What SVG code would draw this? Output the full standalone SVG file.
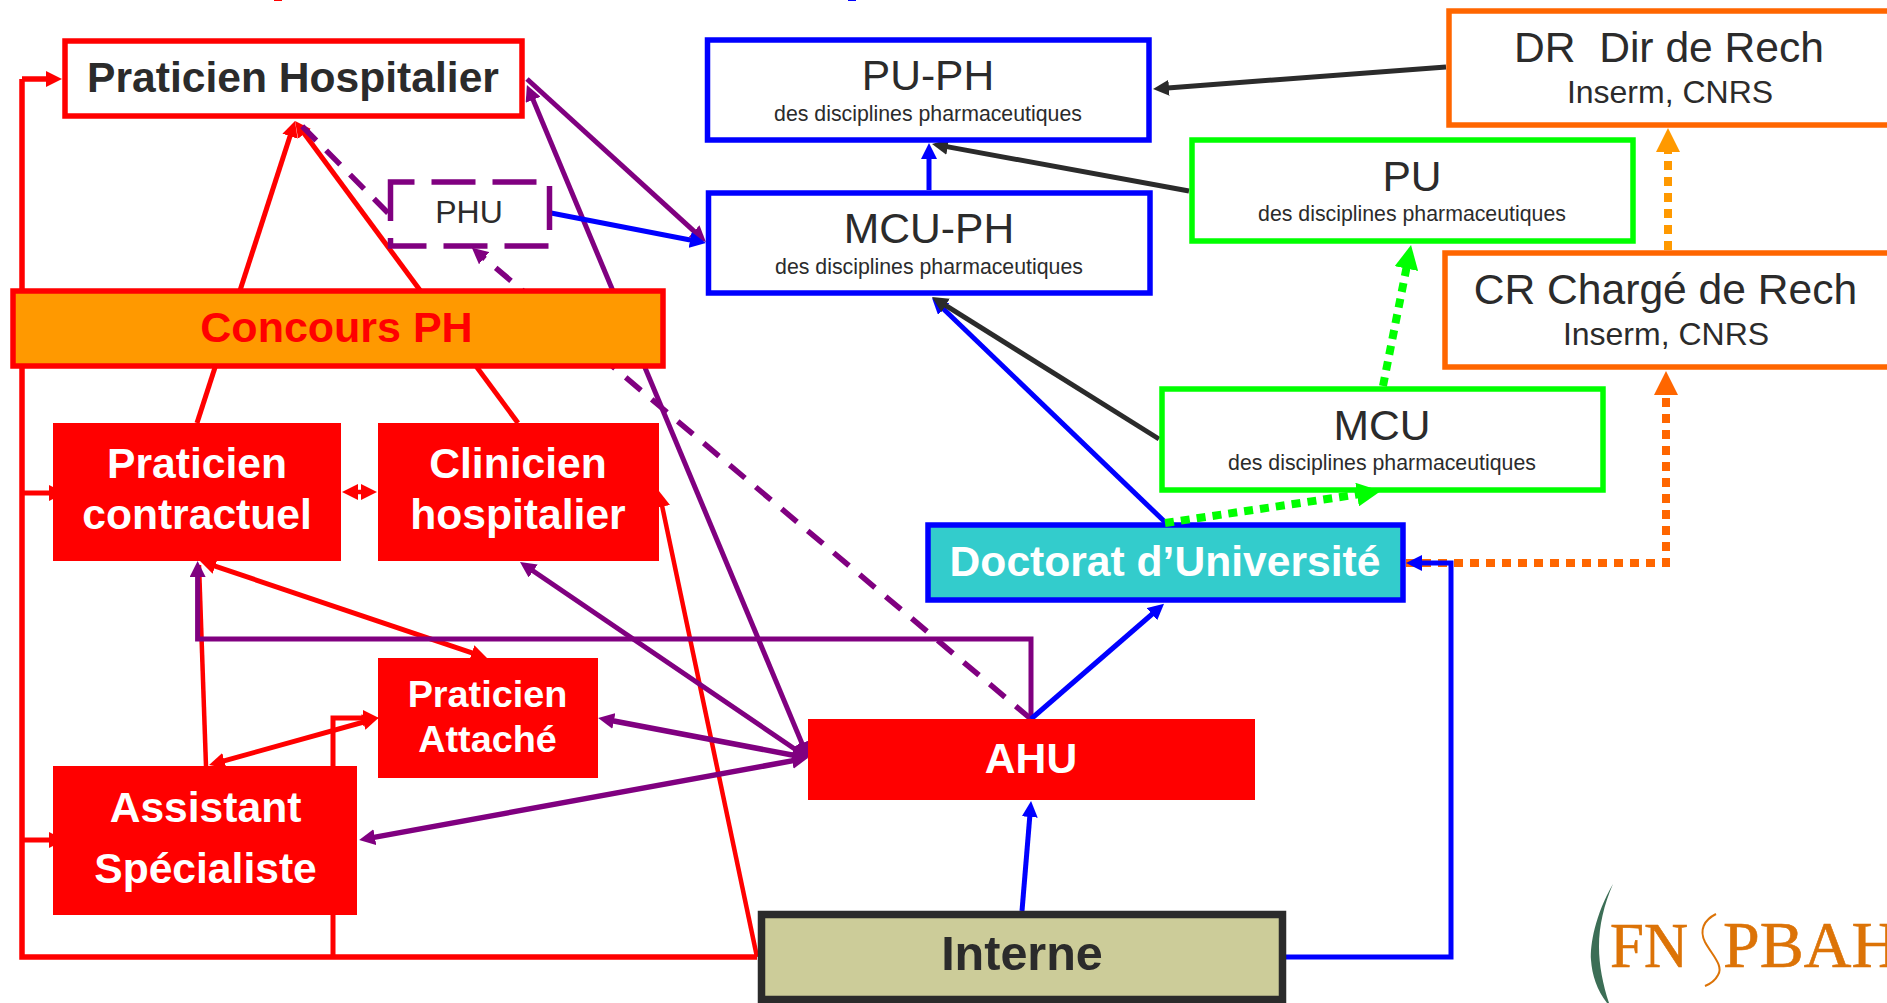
<svg xmlns="http://www.w3.org/2000/svg" width="1887" height="1003" viewBox="0 0 1887 1003">
<style>
text{font-family:"Liberation Sans",Arial,sans-serif;text-anchor:middle;fill:#2b2b2b}
.b{font-weight:bold}
.t{font-size:42.6px}
.s{font-size:21.3px}
.m{font-size:32px}
.w{fill:#fff}
.box{fill:#fff;stroke-width:5.5}
.bl{stroke:#00f}.gr{stroke:#0f0}.or{stroke:#f60}.rd{stroke:#f00}
.f{fill:#f00}
.c{fill:none;stroke-linejoin:miter}
.r{stroke:#f00}.p{stroke:#800080}.u{stroke:#00f}.k{stroke:#2b2b2b}
.w4{stroke-width:4.5}.w5{stroke-width:5}.w6{stroke-width:5.5}
.ds{stroke-width:5.5;stroke-dasharray:20 14}
.dot{stroke-width:8;stroke-dasharray:9 7}
</style>
<defs>
<marker id="hr" markerUnits="userSpaceOnUse" markerWidth="16" markerHeight="16" refX="8" refY="8" orient="auto-start-reverse"><path d="M0 0L16 8L0 16z" fill="#f00"/></marker>
<marker id="hp" markerUnits="userSpaceOnUse" markerWidth="16" markerHeight="16" refX="8" refY="8" orient="auto-start-reverse"><path d="M0 0L16 8L0 16z" fill="#800080"/></marker>
<marker id="hu" markerUnits="userSpaceOnUse" markerWidth="16" markerHeight="16" refX="8" refY="8" orient="auto-start-reverse"><path d="M0 0L16 8L0 16z" fill="#00f"/></marker>
<marker id="hk" markerUnits="userSpaceOnUse" markerWidth="16" markerHeight="16" refX="8" refY="8" orient="auto-start-reverse"><path d="M0 0L16 8L0 16z" fill="#2b2b2b"/></marker>
<marker id="hg" markerUnits="userSpaceOnUse" markerWidth="24" markerHeight="24" refX="12" refY="12" orient="auto"><path d="M0 0L24 12L0 24z" fill="#0f0"/></marker>
<marker id="ho" markerUnits="userSpaceOnUse" markerWidth="24" markerHeight="24" refX="12" refY="12" orient="auto"><path d="M0 0L24 12L0 24z" fill="#f60"/></marker>
<marker id="ha" markerUnits="userSpaceOnUse" markerWidth="24" markerHeight="24" refX="12" refY="12" orient="auto"><path d="M0 0L24 12L0 24z" fill="#f90"/></marker>
</defs>
<rect x="274" y="0" width="8" height="1" fill="#f00"/>
<rect x="848" y="0" width="8" height="1" fill="#00f"/>
<g id="connectors" class="c">
<path class="r w6" d="M22 79V957H757"/>
<path class="r w6" d="M22 79H54" marker-end="url(#hr)"/>
<path class="r w5" d="M22 493H57" marker-end="url(#hr)"/>
<path class="r w5" d="M22 840H57" marker-end="url(#hr)"/>
<path class="r w5" d="M197 423L292.5 128.6" marker-end="url(#hr)"/>
<path class="r w5" d="M518 423L299.8 127.4" marker-end="url(#hr)"/>
<path class="r w4" d="M757 957L660.6 498.8" marker-end="url(#hr)"/>
<path class="r w4" d="M350 492H369" marker-start="url(#hr)" marker-end="url(#hr)"/>
<path class="r w5" d="M207.6 563.6L479.4 655.4" marker-start="url(#hr)" marker-end="url(#hr)"/>
<path class="r w4" d="M206 766L199 565"/>
<path class="r w5" d="M216.7 762.9L371 720" marker-start="url(#hr)" marker-end="url(#hr)"/>
<path class="r w5" d="M333 957V718H371" marker-end="url(#hr)"/>
<path class="p w5" d="M527 79L700 236.6" marker-end="url(#hp)"/>
<path class="p w5" d="M530 92.4L805 750.6" marker-start="url(#hp)" marker-end="url(#hp)"/>
<path class="p w5" d="M801.4 753.5L526.6 566.5" marker-start="url(#hp)" marker-end="url(#hp)"/>
<path class="p w6" d="M800 756.5L606 719.5" marker-start="url(#hp)" marker-end="url(#hp)"/>
<path class="p w6" d="M800 759.4L367 838.6" marker-start="url(#hp)" marker-end="url(#hp)"/>
<path class="p w5" d="M1031 719V639H197.6V569" marker-end="url(#hp)"/>
<path class="p ds" d="M1031 719L478 253" marker-end="url(#hp)"/>
<path class="p ds" d="M388 213L297 121"/>
<path class="u w5" d="M551 213L698 241.5" marker-end="url(#hu)"/>
<path class="u w5" d="M929 190V151" marker-end="url(#hu)"/>
<path class="u w5" d="M1166 523L937.8 303.5" marker-end="url(#hu)"/>
<path class="u w5" d="M1031 719L1158 609" marker-end="url(#hu)"/>
<path class="u w5" d="M1022 911L1030.4 809" marker-end="url(#hu)"/>
<path class="k w5" d="M1446 67L1161 88.4" marker-end="url(#hk)"/>
<path class="k w5" d="M1189 191L939.9 145.4" marker-end="url(#hk)"/>
<path class="k w5" d="M1159 439L938.8 301.2" marker-end="url(#hk)"/>
<path class="dot" stroke="#0f0" d="M1383 386L1408.7 256.8" marker-end="url(#hg)"/>
<path class="dot" stroke="#f60" d="M1406 563H1666V383" marker-end="url(#ho)"/>
<path class="dot" stroke="#f90" d="M1668 250V140" marker-end="url(#ha)"/>
<path class="u w5" d="M1286 957H1451V563H1414" marker-end="url(#hu)"/>
</g>
<g id="ph"><rect class="box rd" x="65" y="41" width="457" height="75"/><text class="t b" x="293" y="92">Praticien Hospitalier</text></g>
<g id="pu-ph"><rect class="box bl" x="707.5" y="40" width="441.5" height="100"/><text class="t" x="928" y="90">PU-PH</text><text class="s" x="928" y="121">des disciplines pharmaceutiques</text></g>
<g id="mcu-ph"><rect class="box bl" x="708.5" y="193" width="441.5" height="100"/><text class="t" x="929" y="243">MCU-PH</text><text class="s" x="929" y="274">des disciplines pharmaceutiques</text></g>
<g id="phu"><rect x="390.5" y="182" width="159" height="64" fill="#fff" stroke="#800080" stroke-width="5.5" stroke-dasharray="44 17" stroke-dashoffset="20"/><text class="m" x="469" y="223">PHU</text></g>
<g id="concours"><rect x="13" y="291" width="650" height="75" fill="#f90" stroke="#f00" stroke-width="5.5"/><text class="b" font-size="43" style="fill:#f00" x="336.5" y="342">Concours PH</text></g>
<g id="contractuel"><rect class="f" x="53" y="423" width="288" height="138"/><text class="t b w" x="197" y="478">Praticien</text><text class="t b w" x="197" y="529">contractuel</text></g>
<g id="clinicien"><rect class="f" x="378" y="423" width="281" height="138"/><text class="t b w" x="518" y="478">Clinicien</text><text class="t b w" x="518" y="529">hospitalier</text></g>
<g id="attache"><rect class="f" x="378" y="658" width="220" height="120"/><text class="b w" font-size="37.8" x="487.5" y="707">Praticien</text><text class="b w" font-size="37.8" x="487.5" y="752">Attaché</text></g>
<g id="assistant"><rect class="f" x="53" y="766" width="304" height="149"/><text class="t b w" x="205.5" y="822">Assistant</text><text class="t b w" x="205.5" y="883">Spécialiste</text></g>
<g id="ahu"><rect class="f" x="808" y="719" width="447" height="81"/><text class="t b w" x="1031" y="773">AHU</text></g>
<g id="interne"><rect x="761.5" y="914.5" width="521" height="85" fill="#cc9" stroke="#2b2b2b" stroke-width="7.5"/><text class="b" font-size="48.5" x="1022" y="970">Interne</text></g>
<g id="doctorat"><rect x="928" y="525" width="475" height="75" fill="#3cc" stroke="#00f" stroke-width="5.5"/><text class="t b w" x="1165" y="576">Doctorat d’Université</text></g>
<g id="dr"><rect class="box or" x="1449" y="11" width="445" height="114"/><text class="t" style="white-space:pre" x="1669" y="62">DR  Dir de Rech</text><text class="m" x="1670" y="103">Inserm, CNRS</text></g>
<g id="pu"><rect class="box gr" x="1192" y="140" width="441" height="101"/><text class="t" x="1412" y="191">PU</text><text class="s" x="1412" y="221">des disciplines pharmaceutiques</text></g>
<g id="cr"><rect class="box or" x="1445" y="253" width="445" height="114"/><text class="t" x="1665.5" y="304">CR Chargé de Rech</text><text class="m" x="1666" y="345">Inserm, CNRS</text></g>
<g id="mcu"><rect class="box gr" x="1162" y="389" width="441" height="101"/><text class="t" x="1382" y="440">MCU</text><text class="s" x="1382" y="470">des disciplines pharmaceutiques</text></g>
<g id="connectors-over" class="c">
<path class="dot" stroke="#0f0" d="M1165 523L1369 492.8" marker-end="url(#hg)"/>
</g>
<g id="logo">
<path d="M1613 884C1595 915 1590 945 1591 960C1592 975 1597 990 1607 1003L1609 1003C1603 985 1599 965 1599 947C1599 925 1604 905 1613 884z" fill="#3c6e56"/>
<text style="font-family:'Liberation Serif',serif;fill:#dc7307;stroke:#dc7307;stroke-width:.6;text-anchor:start" font-size="64" x="1610" y="967" textLength="78" lengthAdjust="spacingAndGlyphs">FN</text>
<path d="M1716 914C1704 920 1699 930 1705 942C1712 955 1724 966 1718 975C1715 981 1710 984 1705 986" fill="none" stroke="#dc7307" stroke-width="2"/>
<text style="font-family:'Liberation Serif',serif;fill:#dc7307;stroke:#dc7307;stroke-width:.6;text-anchor:start" font-size="66" x="1723" y="967">PBAH</text>
</g>
</svg>
